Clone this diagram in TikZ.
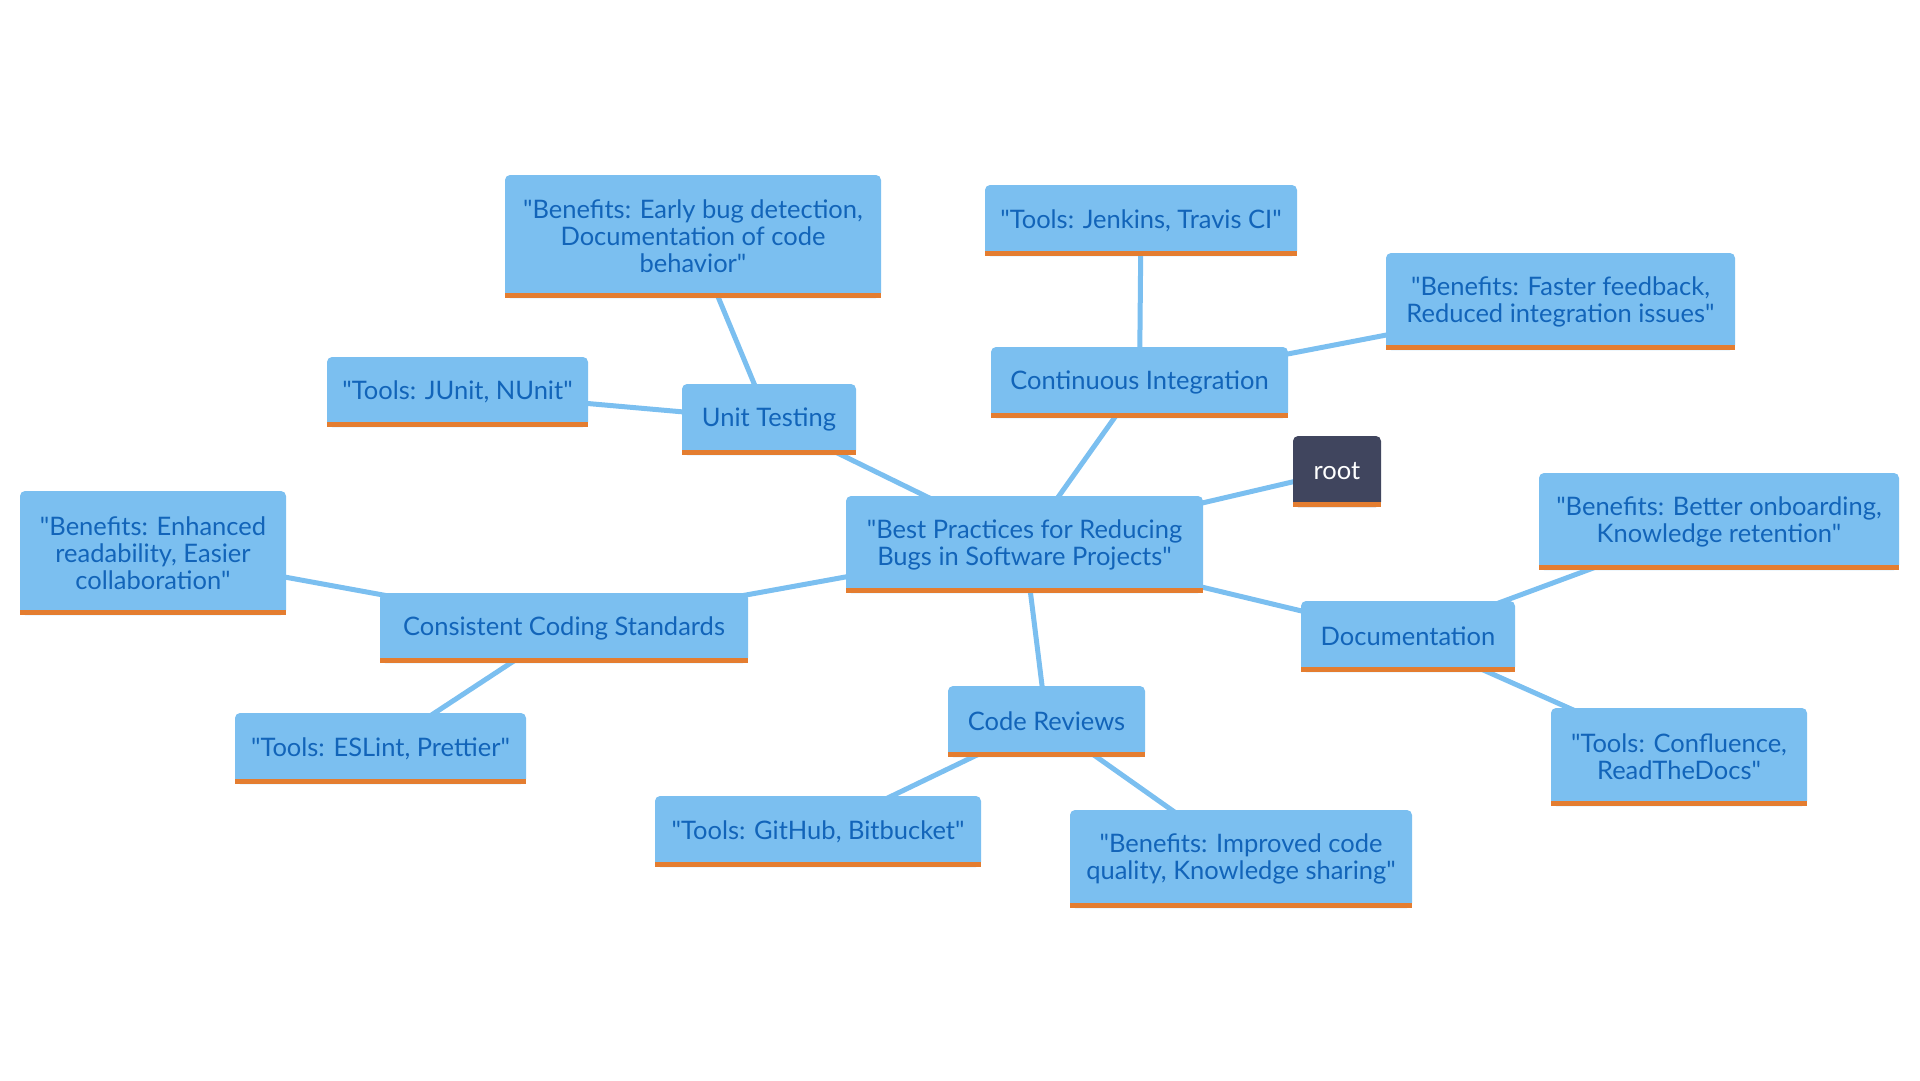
\documentclass[tikz,border=0pt]{standalone}
\usepackage{fontspec}
\setmainfont{Lato}[Ligatures=TeXOff]
\definecolor{nodefill}{RGB}{123,191,240}
\definecolor{nodetext}{RGB}{18,100,185}
\definecolor{barorange}{RGB}{228,125,48}
\definecolor{rootfill}{RGB}{64,69,94}
\pgfdeclarelayer{bg}
\pgfsetlayers{bg,main}
\begin{document}
\begin{tikzpicture}[x=1pt,y=-1pt,
  mm/.style={fill=nodefill, rounded corners=5pt, inner sep=0pt, text=nodetext,
    align=center, font=\fontsize{25.5}{27}\selectfont, minimum height=71pt},
  rootbox/.style={mm, fill=rootfill, text=white},
  edge/.style={draw=nodefill, line width=5pt}]
\useasboundingbox (0,0) rectangle (1920,1080);

\node[mm, minimum width=357pt, minimum height=97pt] (central) at (1024.5,544.5)
  {"Best Practices for Reducing\\Bugs in Software Projects"};
\node[rootbox, minimum width=88pt] (root) at (1337,471.5) {root};
\node[mm, minimum width=174pt] (ut) at (769,419.5) {Unit Testing};
\node[mm, minimum width=376pt, minimum height=123pt] (utben) at (693,236.5)
  {"Benefits: Early bug detection,\\Documentation of code\\behavior"};
\node[mm, minimum width=261pt, minimum height=70pt] (junit) at (457.5,392) {"Tools: JUnit, NUnit"};
\node[mm, minimum width=297pt] (ci) at (1139.5,382.5) {Continuous Integration};
\node[mm, minimum width=312pt] (jenkins) at (1141,220.5) {"Tools: Jenkins, Travis CI"};
\node[mm, minimum width=349pt, minimum height=97pt] (ciben) at (1560.5,301.5)
  {"Benefits: Faster feedback,\\Reduced integration issues"};
\node[mm, minimum width=368pt, minimum height=70pt] (ccs) at (564,628) {Consistent Coding Standards};
\node[mm, minimum width=266pt, minimum height=124pt] (ccsben) at (153,553)
  {"Benefits: Enhanced\\readability, Easier\\collaboration"};
\node[mm, minimum width=291pt] (eslint) at (380.5,748.5) {"Tools: ESLint, Prettier"};
\node[mm, minimum width=197pt] (cr) at (1046.5,721.5) {Code Reviews};
\node[mm, minimum width=326pt] (github) at (818,831.5) {"Tools: GitHub, Bitbucket"};
\node[mm, minimum width=342pt, minimum height=98pt] (crben) at (1241,859)
  {"Benefits: Improved code\\quality, Knowledge sharing"};
\node[mm, minimum width=214pt] (doc) at (1408,636.5) {Documentation};
\node[mm, minimum width=360pt, minimum height=97pt] (docben) at (1719,521.5)
  {"Benefits: Better onboarding,\\Knowledge retention"};
\node[mm, minimum width=256pt, minimum height=98pt] (conf) at (1679,757)
  {"Tools: Confluence,\\ReadTheDocs"};

\foreach \n in {central,root,ut,utben,junit,ci,jenkins,ciben,ccs,ccsben,eslint,cr,github,crben,doc,docben,conf}
  \fill[barorange] (\n.south west) rectangle ([yshift=5pt]\n.south east);

\begin{pgfonlayer}{bg}
\draw[edge] (central.center) -- (root.center);
\draw[edge] (central.center) -- (ut.center);
\draw[edge] (central.center) -- (ci.center);
\draw[edge] (central.center) -- (ccs.center);
\draw[edge] (central.center) -- (cr.center);
\draw[edge] (central.center) -- (doc.center);
\draw[edge] (ut.center) -- (utben.center);
\draw[edge] (ut.center) -- (junit.center);
\draw[edge] (ci.center) -- (jenkins.center);
\draw[edge] (ci.center) -- (ciben.center);
\draw[edge] (ccs.center) -- (ccsben.center);
\draw[edge] (ccs.center) -- (eslint.center);
\draw[edge] (cr.center) -- (github.center);
\draw[edge] (cr.center) -- (crben.center);
\draw[edge] (doc.center) -- (docben.center);
\draw[edge] (doc.center) -- (conf.center);
\end{pgfonlayer}
\end{tikzpicture}
\end{document}
